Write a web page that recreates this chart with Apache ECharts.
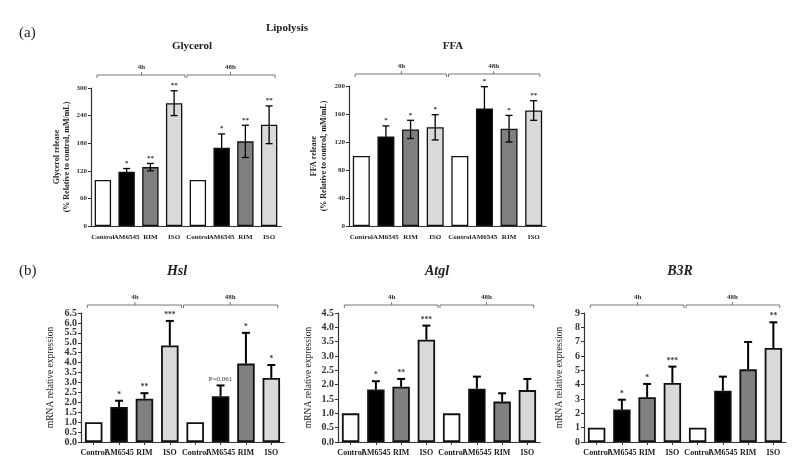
<!DOCTYPE html>
<html><head><meta charset="utf-8">
<script src="https://cdn.jsdelivr.net/npm/echarts@6/dist/echarts.min.js"></script>
<style>html,body{margin:0;padding:0;background:#fff}#c{width:799px;height:470px}</style>
</head><body><div id="c"></div>
<script>
const categories = ['Control','AM6545','RIM','ISO','Control','AM6545','RIM','ISO'];
const groupLabels = ['4h','48h'];

const glycerolMean = [100,118,128,267,100,170,184,220];
const glycerolErr  = [0,7,8,27,0,30,35,41];
const glycerolSig  = ['','*','**','**','','*','**','**'];
const glycerolTicks = {min:0,max:300,interval:60};

const ffaMean = [100,128,138,141,100,168,139,165];
const ffaErr  = [0,15,13,18,0,31,19,14];
const ffaSig  = ['','*','*','*','','*','*','**'];
const ffaTicks = {min:0,max:200,interval:40};

const hslMean = [1,1.76,2.18,4.86,1,2.31,3.95,3.23];
const hslErr  = [0,0.32,0.28,1.24,0,0.54,1.55,0.65];
const hslSig  = ['','*','**','***','','P=0.061','*','*'];
const hslTicks = {min:0,max:6.5,interval:0.5};

const atglMean = [1,1.83,1.93,3.57,1,1.86,1.41,1.81];
const atglErr  = [0,0.29,0.27,0.49,0,0.42,0.29,0.39];
const atglSig  = ['','*','**','***','','','',''];
const atglTicks = {min:0,max:4.5,interval:0.5};

const b3rMean = [1,2.26,3.12,4.12,1,3.58,5.07,6.56];
const b3rErr  = [0,0.69,0.93,1.14,0,0.98,1.91,1.79];
const b3rSig  = ['','*','*','***','','','','**'];
const b3rTicks = {min:0,max:9,interval:1};

const SERIF = "'Liberation Serif','DejaVu Serif',serif";
const barColors = ['#ffffff','#000000','#808080','#d9d9d9'];

const panels = [
  {mean:glycerolMean, err:glycerolErr, sig:glycerolSig, ticks:glycerolTicks, grid:{left:91,top:88,width:190,height:138},
   name:'Glycerol release\n(% Relative to control, mM/mL)', nameBold:true, nameSize:8, nameGap:19, ySize:7, xSize:7,
   twoSided:true, lw:1.3, cap:7, bw:1.3, sigSize:7, brOff:13, fmt:null, xTick:false, xMargin:8},
  {mean:ffaMean, err:ffaErr, sig:ffaSig, ticks:ffaTicks, grid:{left:349,top:86,width:197,height:140},
   name:'FFA release\n(% Relative to control, mM/mL)', nameBold:true, nameSize:8, nameGap:20, ySize:7, xSize:7,
   twoSided:true, lw:1.3, cap:7, bw:1.3, sigSize:7, brOff:12, fmt:null, xTick:false, xMargin:8},
  {mean:hslMean, err:hslErr, sig:hslSig, ticks:hslTicks, grid:{left:81,top:313,width:203,height:129},
   name:'mRNA relative expression', nameBold:false, nameSize:9.5, nameGap:25, ySize:10, xSize:8,
   twoSided:false, lw:2, cap:8, bw:1.8, sigSize:7.5, brOff:8, fmt:1, xTick:true, xMargin:7},
  {mean:atglMean, err:atglErr, sig:atglSig, ticks:atglTicks, grid:{left:338,top:313,width:202,height:129},
   name:'mRNA relative expression', nameBold:false, nameSize:9.5, nameGap:24, ySize:10, xSize:8,
   twoSided:false, lw:2, cap:8, bw:1.8, sigSize:7.5, brOff:8, fmt:1, xTick:true, xMargin:7},
  {mean:b3rMean, err:b3rErr, sig:b3rSig, ticks:b3rTicks, grid:{left:584,top:313,width:202,height:129},
   name:'mRNA relative expression', nameBold:false, nameSize:9.5, nameGap:19, ySize:10, xSize:8,
   twoSided:false, lw:2, cap:8, bw:1.8, sigSize:7.5, brOff:8, fmt:0, xTick:true, xMargin:7}
];

const grids=[], xAxes=[], yAxes=[], series=[];
panels.forEach((p,gi)=>{
  grids.push(Object.assign({containLabel:false}, p.grid));
  xAxes.push({type:'category', gridIndex:gi, data:categories,
    axisLine:{lineStyle:{color:'#333',width:1.2}},
    axisTick:{show:p.xTick, alignWithLabel:true, length:3, lineStyle:{color:'#333'}},
    axisLabel:{interval:0, color:'#222', fontFamily:SERIF, fontWeight:'bold', fontSize:p.xSize, margin:p.xMargin, hideOverlap:false}});
  yAxes.push({type:'value', gridIndex:gi, min:p.ticks.min, max:p.ticks.max, interval:p.ticks.interval,
    name:p.name, nameLocation:'middle', nameGap:p.nameGap, nameRotate:90,
    nameTextStyle:{fontFamily:SERIF, fontSize:p.nameSize, fontWeight:p.nameBold?'bold':'normal', color:'#222', lineHeight:p.nameSize*1.25},
    splitLine:{show:false},
    axisLine:{show:true, lineStyle:{color:'#333',width:1.2}},
    axisTick:{show:true, length:3, lineStyle:{color:'#333'}},
    axisLabel:{color:'#333', fontFamily:SERIF, fontWeight:'bold', fontSize:p.ySize, margin:4,
      formatter: p.fmt===null ? '{value}' : (v=>v.toFixed(p.fmt))}});
  series.push({type:'bar', xAxisIndex:gi, yAxisIndex:gi, barWidth:'69%',
    data:p.mean.map((v,i)=>({value:v, itemStyle:{color:barColors[i%4]}})),
    itemStyle:{borderColor:'#111', borderWidth:p.bw}, emphasis:{disabled:true}, animation:false});
  series.push({type:'custom', xAxisIndex:gi, yAxisIndex:gi, z:5, animation:false,
    data:p.mean.map((m,i)=>[i,m,p.err[i]]),
    renderItem:(params,api)=>{
      const x=api.value(0), m=api.value(1), e=api.value(2);
      const top=api.coord([x,m+e]), mid=api.coord([x,m]), bot=api.coord([x,m-e]);
      const hw=p.cap/2, ch=[];
      const ls={stroke:'#000', lineWidth:p.lw};
      if(e>0){
        const from = p.twoSided? bot : mid;
        ch.push({type:'line', shape:{x1:top[0],y1:from[1],x2:top[0],y2:top[1]}, style:ls});
        ch.push({type:'line', shape:{x1:top[0]-hw,y1:top[1],x2:top[0]+hw,y2:top[1]}, style:ls});
        if(p.twoSided) ch.push({type:'line', shape:{x1:bot[0]-hw,y1:bot[1],x2:bot[0]+hw,y2:bot[1]}, style:ls});
      }
      const s=p.sig[params.dataIndex];
      if(s){
        const isP = s.indexOf('P')===0;
        ch.push({type:'text', style:{text:s, x:top[0], y:top[1]-(isP?3:2), align:'center', verticalAlign:'bottom',
          font:(isP?'normal ':'bold ')+(isP?7:p.sigSize)+'px '+SERIF, fill:'#333'}});
      }
      return {type:'group', children:ch};
    }});
  series.push({type:'custom', xAxisIndex:gi, yAxisIndex:gi, z:5, animation:false, data:[[0,0]],
    renderItem:(params,api)=>{
      const cs=params.coordSys, bwid=api.size([1,0])[0];
      const y=cs.y-p.brOff, d=3;
      const x0=api.coord([0,0])[0]-0.25*bwid, x7=api.coord([7,0])[0]+0.25*bwid;
      const xm=(api.coord([3,0])[0]+api.coord([4,0])[0])/2;
      const ls={stroke:'#666', lineWidth:0.9, fill:null};
      const ch=[];
      [[x0,xm],[xm,x7]].forEach((h,k)=>{
        ch.push({type:'polyline', shape:{points:[[h[0]+(k?1:0),y+d],[h[0]+(k?1:0),y],[h[1]-(k?0:1),y],[h[1]-(k?0:1),y+d]]}, style:ls});
        const c=(h[0]+h[1])/2;
        ch.push({type:'line', shape:{x1:c,y1:y,x2:c,y2:y-d}, style:ls});
        ch.push({type:'text', style:{text:groupLabels[k], x:c, y:y-d-1, align:'center', verticalAlign:'bottom',
          font:'bold 7px '+SERIF, fill:'#333'}});
      });
      return {type:'group', children:ch};
    }});
});

const titles = [
  {text:'(a)', left:14, top:21, textStyle:{fontFamily:SERIF, fontSize:15, fontWeight:'normal', color:'#222'}},
  {text:'Lipolysis', left:282, top:18, textAlign:'center', textStyle:{fontFamily:SERIF, fontSize:11, fontWeight:'bold', color:'#222'}},
  {text:'Glycerol', left:187, top:36, textAlign:'center', textStyle:{fontFamily:SERIF, fontSize:11, fontWeight:'bold', color:'#222'}},
  {text:'FFA', left:448, top:36, textAlign:'center', textStyle:{fontFamily:SERIF, fontSize:11, fontWeight:'bold', color:'#222'}},
  {text:'(b)', left:14, top:259, textStyle:{fontFamily:SERIF, fontSize:15, fontWeight:'normal', color:'#222'}},
  {text:'Hsl', left:172, top:259, textAlign:'center', textStyle:{fontFamily:SERIF, fontSize:14, fontWeight:'bold', fontStyle:'italic', color:'#222'}},
  {text:'Atgl', left:432, top:259, textAlign:'center', textStyle:{fontFamily:SERIF, fontSize:14, fontWeight:'bold', fontStyle:'italic', color:'#222'}},
  {text:'B3R', left:675, top:259, textAlign:'center', textStyle:{fontFamily:SERIF, fontSize:14, fontWeight:'bold', fontStyle:'italic', color:'#222'}}
];

const chart = echarts.init(document.getElementById('c'), null, {renderer:'canvas'});
chart.setOption({animation:false, backgroundColor:'#fff', title:titles, grid:grids, xAxis:xAxes, yAxis:yAxes, series:series});
</script></body></html>
